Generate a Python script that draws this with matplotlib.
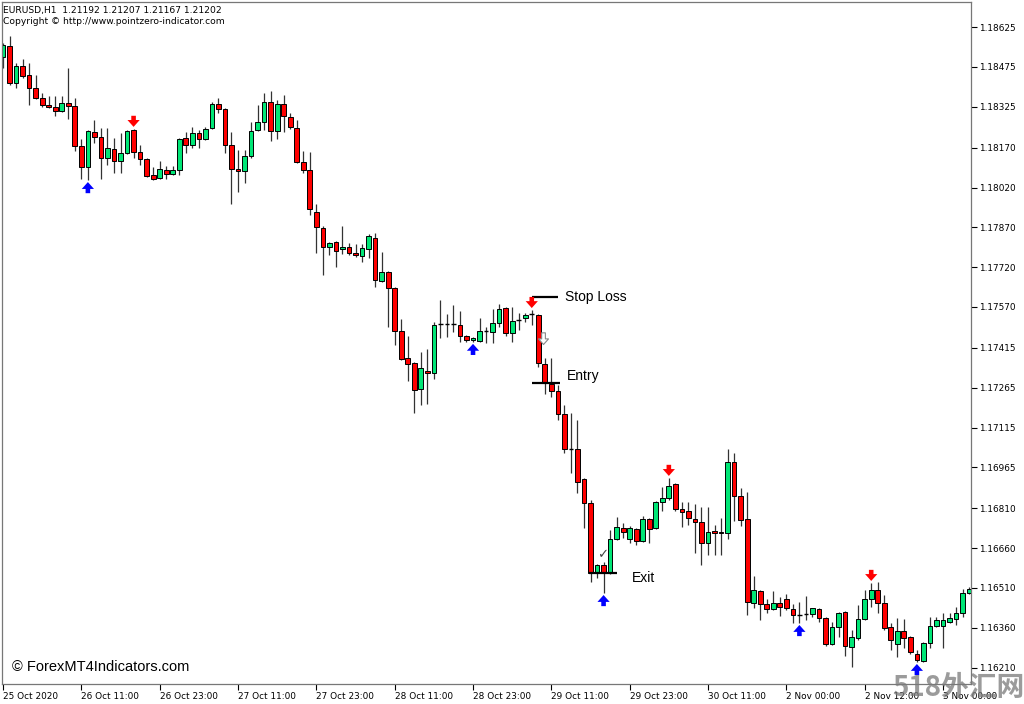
import matplotlib
matplotlib.use("Agg")
import matplotlib.pyplot as plt
from matplotlib.transforms import offset_copy

# H1 candles, one per hour, bar 0 = 25 Oct 2020 23:00
opens = [
    1.18512, 1.18554, 1.18414, 1.18478, 1.18444, 1.18395, 1.18358, 1.18331, 1.18324, 1.18309,
    1.18339, 1.18327, 1.18177, 1.18097, 1.18229, 1.18210, 1.18131, 1.18165, 1.18120, 1.18150,
    1.18237, 1.18154, 1.18128, 1.18067, 1.18056, 1.18086, 1.18071, 1.18086, 1.18207, 1.18180,
    1.18226, 1.18203, 1.18244, 1.18335, 1.18316, 1.18180, 1.18090, 1.18082, 1.18139, 1.18237,
    1.18267, 1.18342, 1.18233, 1.18335, 1.18286, 1.18244, 1.18116, 1.18086, 1.17928, 1.17867,
    1.17796, 1.17815, 1.17788, 1.17796, 1.17773, 1.17762, 1.17788, 1.17830, 1.17668, 1.17702,
    1.17641, 1.17479, 1.17377, 1.17358, 1.17260, 1.17328, 1.17321, 1.17507, 1.17506, 1.17506,
    1.17502, 1.17460, 1.17445, 1.17441, 1.17479, 1.17475, 1.17509, 1.17566, 1.17472, 1.17521,
    1.17528, 1.17543, 1.17539, 1.17355, 1.17279, 1.17253, 1.17166, 1.17034, 1.17034, 1.16921,
    1.16831, 1.16567, 1.16597, 1.16567, 1.16695, 1.16736, 1.16695, 1.16733, 1.16687, 1.16770,
    1.16736, 1.16834, 1.16850, 1.16902, 1.16808, 1.16800, 1.16770, 1.16759, 1.16680, 1.16725,
    1.16721, 1.16718, 1.16985, 1.16857, 1.16770, 1.16454, 1.16499, 1.16450, 1.16431, 1.16454,
    1.16469, 1.16431, 1.16408, 1.16412, 1.16412, 1.16431, 1.16397, 1.16299, 1.16363, 1.16420,
    1.16288, 1.16322, 1.16393, 1.16469, 1.16503, 1.16454, 1.16363, 1.16299, 1.16348, 1.16325,
    1.16261, 1.16235, 1.16303, 1.16367, 1.16367, 1.16382, 1.16393, 1.16416, 1.16491]
highs = [
    1.18565, 1.18591, 1.18490, 1.18505, 1.18490, 1.18444, 1.18376, 1.18365, 1.18365, 1.18365,
    1.18471, 1.18358, 1.18203, 1.18237, 1.18275, 1.18244, 1.18244, 1.18207, 1.18226, 1.18237,
    1.18241, 1.18180, 1.18131, 1.18097, 1.18120, 1.18101, 1.18101, 1.18207, 1.18229, 1.18248,
    1.18237, 1.18248, 1.18342, 1.18358, 1.18320, 1.18229, 1.18161, 1.18161, 1.18267, 1.18331,
    1.18376, 1.18384, 1.18350, 1.18369, 1.18301, 1.18275, 1.18158, 1.18154, 1.17958, 1.17875,
    1.17815, 1.17818, 1.17875, 1.17811, 1.17807, 1.17807, 1.17845, 1.17849, 1.17777, 1.17705,
    1.17645, 1.17524, 1.17460, 1.17362, 1.17400, 1.17411, 1.17513, 1.17596, 1.17543, 1.17577,
    1.17554, 1.17464, 1.17456, 1.17528, 1.17494, 1.17562, 1.17581, 1.17570, 1.17570, 1.17547,
    1.17547, 1.17558, 1.17543, 1.17377, 1.17377, 1.17276, 1.17200, 1.17170, 1.17144, 1.16925,
    1.16842, 1.16601, 1.16608, 1.16729, 1.16778, 1.16755, 1.16744, 1.16736, 1.16782, 1.16774,
    1.16838, 1.16891, 1.16925, 1.16906, 1.16834, 1.16834, 1.16827, 1.16816, 1.16816, 1.16748,
    1.16774, 1.17034, 1.17019, 1.16887, 1.16872, 1.16556, 1.16503, 1.16469, 1.16499, 1.16476,
    1.16488, 1.16450, 1.16458, 1.16480, 1.16435, 1.16435, 1.16401, 1.16382, 1.16420, 1.16423,
    1.16352, 1.16446, 1.16503, 1.16529, 1.16533, 1.16484, 1.16378, 1.16397, 1.16393, 1.16329,
    1.16277, 1.16307, 1.16401, 1.16401, 1.16416, 1.16416, 1.16439, 1.16507, 1.16514]
lows = [
    1.18471, 1.18407, 1.18395, 1.18433, 1.18331, 1.18354, 1.18324, 1.18320, 1.18290, 1.18305,
    1.18278, 1.18158, 1.18052, 1.18048, 1.18188, 1.18052, 1.18105, 1.18075, 1.18075, 1.18146,
    1.18131, 1.18105, 1.18060, 1.18048, 1.18052, 1.18052, 1.18067, 1.18067, 1.18150, 1.18169,
    1.18169, 1.18199, 1.18241, 1.18301, 1.18150, 1.17958, 1.18003, 1.18037, 1.18131, 1.18233,
    1.18237, 1.18195, 1.18203, 1.18229, 1.18241, 1.18112, 1.18075, 1.17916, 1.17773, 1.17690,
    1.17766, 1.17720, 1.17769, 1.17766, 1.17758, 1.17739, 1.17754, 1.17645, 1.17664, 1.17494,
    1.17426, 1.17370, 1.17291, 1.17170, 1.17200, 1.17204, 1.17298, 1.17453, 1.17456, 1.17475,
    1.17438, 1.17438, 1.17438, 1.17438, 1.17434, 1.17434, 1.17494, 1.17460, 1.17438, 1.17483,
    1.17513, 1.17502, 1.17343, 1.17242, 1.17230, 1.17144, 1.17019, 1.16944, 1.16868, 1.16736,
    1.16533, 1.16548, 1.16491, 1.16563, 1.16691, 1.16699, 1.16680, 1.16672, 1.16684, 1.16680,
    1.16733, 1.16800, 1.16842, 1.16800, 1.16740, 1.16748, 1.16642, 1.16597, 1.16635, 1.16635,
    1.16635, 1.16695, 1.16763, 1.16744, 1.16408, 1.16435, 1.16390, 1.16416, 1.16427, 1.16405,
    1.16427, 1.16378, 1.16378, 1.16390, 1.16401, 1.16382, 1.16292, 1.16295, 1.16325, 1.16254,
    1.16212, 1.16314, 1.16390, 1.16439, 1.16416, 1.16352, 1.16277, 1.16250, 1.16284, 1.16261,
    1.16231, 1.16231, 1.16284, 1.16363, 1.16284, 1.16378, 1.16371, 1.16401, 1.16488]
closes = [
    1.18557, 1.18414, 1.18478, 1.18440, 1.18395, 1.18358, 1.18331, 1.18324, 1.18309, 1.18339,
    1.18327, 1.18177, 1.18097, 1.18233, 1.18210, 1.18131, 1.18169, 1.18120, 1.18150, 1.18233,
    1.18154, 1.18128, 1.18064, 1.18052, 1.18090, 1.18071, 1.18086, 1.18203, 1.18180, 1.18226,
    1.18203, 1.18241, 1.18335, 1.18316, 1.18180, 1.18090, 1.18082, 1.18139, 1.18233, 1.18267,
    1.18342, 1.18233, 1.18335, 1.18290, 1.18248, 1.18116, 1.18086, 1.17939, 1.17871, 1.17796,
    1.17811, 1.17781, 1.17796, 1.17773, 1.17766, 1.17792, 1.17837, 1.17671, 1.17702, 1.17641,
    1.17479, 1.17374, 1.17355, 1.17257, 1.17340, 1.17321, 1.17502, 1.17507, 1.17506, 1.17506,
    1.17460, 1.17445, 1.17453, 1.17479, 1.17479, 1.17509, 1.17562, 1.17472, 1.17517, 1.17521,
    1.17539, 1.17543, 1.17358, 1.17287, 1.17253, 1.17166, 1.17034, 1.17034, 1.16910, 1.16831,
    1.16567, 1.16597, 1.16567, 1.16695, 1.16740, 1.16721, 1.16736, 1.16687, 1.16770, 1.16733,
    1.16834, 1.16850, 1.16895, 1.16808, 1.16797, 1.16774, 1.16759, 1.16680, 1.16721, 1.16718,
    1.16718, 1.16985, 1.16857, 1.16767, 1.16458, 1.16503, 1.16450, 1.16431, 1.16454, 1.16439,
    1.16435, 1.16408, 1.16408, 1.16412, 1.16433, 1.16397, 1.16299, 1.16363, 1.16416, 1.16292,
    1.16325, 1.16393, 1.16469, 1.16503, 1.16454, 1.16359, 1.16314, 1.16348, 1.16322, 1.16269,
    1.16239, 1.16303, 1.16367, 1.16390, 1.16390, 1.16397, 1.16416, 1.16491, 1.16507]

buy_arrows = [13, 72, 92, 122, 140]
sell_arrows = [20, 81, 102, 133]

price_ticks = ["1.18625", "1.18475", "1.18325", "1.18170", "1.18020", "1.17870", "1.17720",
               "1.17570", "1.17415", "1.17265", "1.17115", "1.16965", "1.16810", "1.16660",
               "1.16510", "1.16360", "1.16210"]
time_labels = ["25 Oct 2020", "26 Oct 11:00", "26 Oct 23:00", "27 Oct 11:00", "27 Oct 23:00",
               "28 Oct 11:00", "28 Oct 23:00", "29 Oct 11:00", "29 Oct 23:00", "30 Oct 11:00",
               "2 Nov 00:00", "2 Nov 12:00", "3 Nov 00:00"]

stop_loss = 1.17607
entry = 1.17283
exit_price = 1.16567

UP = "#00E676"
DOWN = "#FF0000"

fig = plt.figure(figsize=(10.24, 7.04), dpi=100)
ax = fig.add_axes([0.002, 0.0284, 0.946, 0.9686])

for i in range(len(opens)):
    o, h, l, c = opens[i], highs[i], lows[i], closes[i]
    ax.vlines(i, l, h, color="#333333", lw=0.9, zorder=1)
    if o == c:
        ax.hlines(o, i - 0.36, i + 0.36, color="black", lw=1.0, zorder=2)
        continue
    col = UP if c > o else DOWN
    ax.bar(i, abs(c - o), bottom=min(o, c), width=0.72, color=col,
           edgecolor="black", linewidth=0.7, zorder=2)

# signal arrows
below = offset_copy(ax.transData, fig=fig, y=-2, units="dots")
above = offset_copy(ax.transData, fig=fig, y=2, units="dots")
style = "simple,head_length=0.45,head_width=0.8,tail_width=0.3"
for i in buy_arrows:
    ax.annotate("", xy=(i, lows[i]), xycoords=below, xytext=(0, -8), textcoords="offset points",
                arrowprops=dict(arrowstyle=style, fc="#0000FF", ec="#0000FF", lw=0,
                                mutation_scale=11, shrinkA=0, shrinkB=0))
for i in sell_arrows:
    ax.annotate("", xy=(i, highs[i]), xycoords=above, xytext=(0, 8), textcoords="offset points",
                arrowprops=dict(arrowstyle=style, fc="#FF0000", ec="#FF0000", lw=0,
                                mutation_scale=11, shrinkA=0, shrinkB=0))

# hollow signal arrow and check mark
ax.annotate("", xy=(82.8, 1.17428), xytext=(82.8, 1.17472),
            arrowprops=dict(arrowstyle=style, fc="white", ec="#888888", lw=0.8,
                            mutation_scale=9, shrinkA=0, shrinkB=0))
ax.text(91.8, 1.16635, "\u2713", fontsize=9.5, color="#444444", ha="center", va="center")

# trade levels
lbl = dict(fontsize=10, family="Liberation Sans", color="black", va="center")
ax.hlines(stop_loss, 81, 85, color="black", lw=1.6)
ax.text(86.1, stop_loss, "Stop Loss", **lbl)
ax.hlines(entry, 81, 85.3, color="black", lw=1.6)
ax.text(86.4, entry + 0.00027, "Entry", **lbl)
ax.hlines(exit_price, 89.7, 94, color="black", lw=1.6)
ax.text(96.3, exit_price - 0.00019, "Exit", **lbl)

ax.set_xlim(-0.15, 148.25)
ax.set_ylim(1.16148, 1.18719)

ax.yaxis.tick_right()
ax.set_yticks([float(v) for v in price_ticks])
ax.set_yticklabels(price_ticks)
ax.set_xticks(range(0, 12 * len(time_labels), 12))
ax.set_xticklabels(time_labels, ha="left")
ax.tick_params(axis="both", labelsize=6.4, length=4, width=0.8, colors="black", pad=2)
ax.tick_params(axis="x", pad=1.5)
for s in ax.spines.values():
    s.set_color("#777777")
    s.set_linewidth(0.9)

fig.text(0.003, 0.985, "EURUSD,H1  1.21192 1.21207 1.21167 1.21202", fontsize=6.6,
         family="DejaVu Sans", va="center")
fig.text(0.003, 0.970, "Copyright \u00a9 http://www.pointzero-indicator.com", fontsize=6.6,
         family="DejaVu Sans", va="center")
fig.text(0.012, 0.052, "\u00a9 ForexMT4Indicators.com", fontsize=10.5,
         family="Liberation Sans", va="center")
fig.text(0.871, 0.003, "518外汇网", fontsize=20, color="#7a7a7a", alpha=0.75,
         fontweight="bold", family=["Noto Sans CJK SC", "DejaVu Sans"], va="bottom")

fig.savefig("out.png", dpi=100, facecolor="white")
